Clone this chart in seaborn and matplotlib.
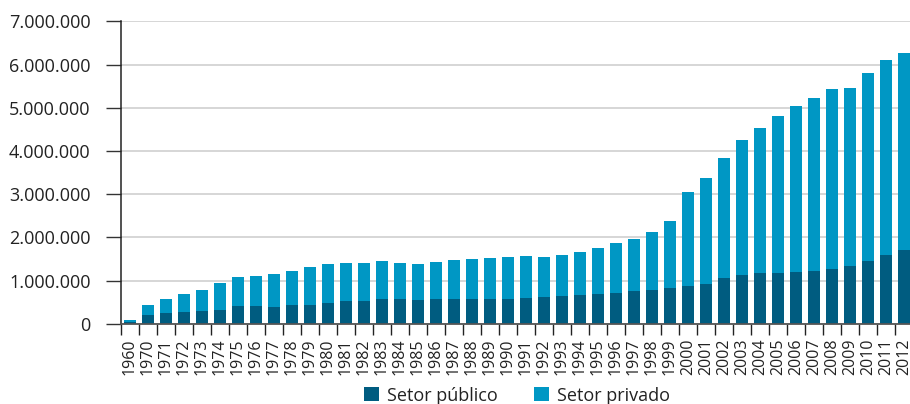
import matplotlib
matplotlib.use("Agg")
import matplotlib.pyplot as plt
import matplotlib.ticker as mticker
import pandas as pd
import seaborn as sns

# ---- data ----
anos = ["1960"] + [str(a) for a in range(1970, 2013)]

setor_publico = [
    40000, 190000, 240000, 265000, 290000, 310000, 405000, 405000, 380000, 425000,
    425000, 475000, 520000, 520000, 565000, 565000, 545000, 565000, 565000, 565000,
    565000, 575000, 595000, 620000, 640000, 665000, 690000, 710000, 755000, 780000,
    830000, 875000, 920000, 1060000, 1130000, 1175000, 1175000, 1195000, 1220000, 1265000,
    1335000, 1450000, 1590000, 1705000,
]

setor_privado = [
    40000, 235000, 325000, 415000, 485000, 630000, 675000, 695000, 765000, 790000,
    885000, 905000, 880000, 880000, 885000, 835000, 835000, 860000, 905000, 930000,
    955000, 970000, 970000, 920000, 950000, 995000, 1060000, 1155000, 1205000, 1340000,
    1545000, 2170000, 2450000, 2775000, 3120000, 3355000, 3630000, 3845000, 4005000, 4170000,
    4120000, 4350000, 4515000, 4560000,
]

cor_publico = "#005c80"
cor_privado = "#0097c4"

df = pd.DataFrame({"ano": anos, "publico": setor_publico, "privado": setor_privado})
df["total"] = df["publico"] + df["privado"]

sns.set_style("white")
plt.rcParams["font.family"] = ["Open Sans", "DejaVu Sans"]

fig = plt.figure(figsize=(9.10, 4.04), dpi=100)
ax = fig.add_axes([121 / 910, 80.3 / 404, 792 / 910, 302.4 / 404])

# stacked bars: total first (private on top), then public over it
sns.barplot(data=df, x="ano", y="total", order=anos, color=cor_privado,
            saturation=1, width=0.67, ax=ax, label="Setor privado",
            edgecolor="none", linewidth=0)
sns.barplot(data=df, x="ano", y="publico", order=anos, color=cor_publico,
            saturation=1, width=0.67, ax=ax, label="Setor público",
            edgecolor="none", linewidth=0)

ax.set_xlim(-0.5, len(anos) - 0.5)
ax.set_ylim(0, 7000000)
ax.set_xlabel("")
ax.set_ylabel("")

ax.yaxis.set_major_locator(mticker.MultipleLocator(1000000))
ax.yaxis.set_major_formatter(
    mticker.FuncFormatter(lambda v, _: f"{int(v):,}".replace(",", "."))
)
ax.grid(axis="y", color="#cccccc", linewidth=1.1)
ax.set_axisbelow(True)

# x ticks: labels at the bar centres, marks between bars
ax.set_xticks(range(len(anos)))
ax.set_xticklabels(anos, rotation=90, fontsize=11.5, color="#222222")
ax.set_xticks([i - 0.5 for i in range(len(anos) + 1)], minor=True)
ax.tick_params(axis="x", which="major", length=0, pad=11)
ax.tick_params(axis="x", which="minor", length=8, width=1, color="#222222",
               direction="out", bottom=True)
ax.tick_params(axis="y", length=11, width=1, color="#333333", pad=11,
               labelsize=13, labelcolor="#222222", left=True)

for s in ["top", "right"]:
    ax.spines[s].set_visible(False)
ax.spines["left"].set_color("#222222")
ax.spines["left"].set_linewidth(1.1)
ax.spines["bottom"].set_color("#555555")
ax.spines["bottom"].set_linewidth(1.3)

handles, labels = ax.get_legend_handles_labels()
order = [labels.index("Setor público"), labels.index("Setor privado")]
ax.legend([handles[i] for i in order], [labels[i] for i in order],
          loc="center", bbox_to_anchor=(0.5, -0.2375), ncol=2, frameon=False,
          fontsize=13, handlelength=0.85, handleheight=0.85,
          handletextpad=0.45, columnspacing=2.0, labelcolor="#222222")

fig.savefig("out.png", dpi=100)
